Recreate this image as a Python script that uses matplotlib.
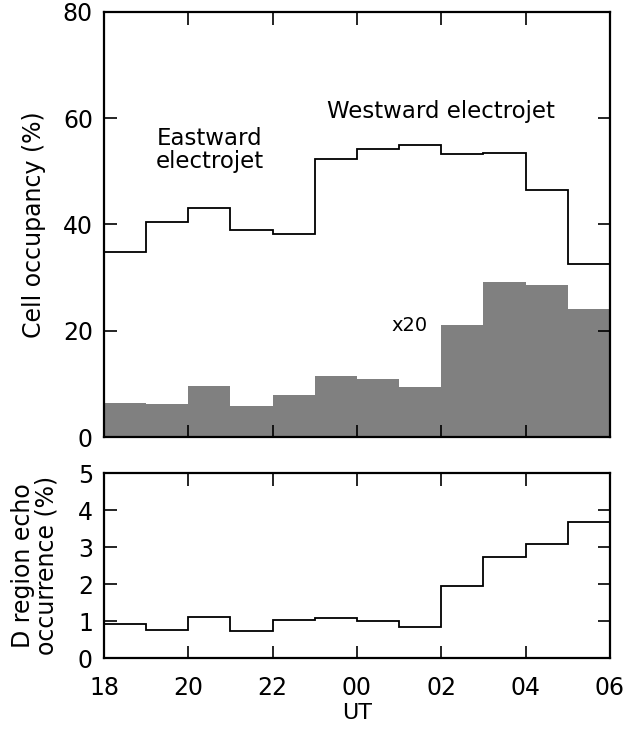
import numpy as np
import matplotlib.pyplot as plt

# hourly bins, 18 UT to 06 UT (hours past 18 run on to 30)
hour_edges = list(range(18, 31))
tick_hours = [18, 20, 22, 24, 26, 28, 30]
tick_labels = ["18", "20", "22", "00", "02", "04", "06"]

cell_occupancy = [34.9, 40.5, 43.1, 39.0, 38.2, 52.4, 54.2, 54.9, 53.2, 53.5, 46.5, 32.6]
eastward_x20 = [6.5, 6.3, 9.6, 5.8, 7.9, 11.5, 10.9, 9.4, 21.1, 29.1, 28.6, 24.1]
d_region = [0.93, 0.77, 1.11, 0.72, 1.02, 1.09, 0.99, 0.84, 1.96, 2.72, 3.07, 3.68]

plt.rcParams["font.family"] = "DejaVu Sans"

fig = plt.figure(figsize=(6.38, 7.3), dpi=100)
ax1 = fig.add_axes([0.163, 0.401, 0.793, 0.583])
ax2 = fig.add_axes([0.163, 0.0986, 0.793, 0.2534])

edges = np.array(hour_edges)

ax1.bar(edges[:-1], eastward_x20, width=1.0, align="edge", color="#808080", linewidth=0)
ax1.stairs(cell_occupancy, edges, color="black", linewidth=1.3)
ax1.set_xlim(18, 30)
ax1.set_ylim(0, 80)
ax1.set_yticks([0, 20, 40, 60, 80])
ax1.set_xticks(tick_hours)
ax1.set_xticklabels([])
ax1.set_ylabel("Cell occupancy (%)", fontsize=17, labelpad=12)

ax1.text(20.51, 54, "Eastward\nelectrojet", ha="center", va="center", fontsize=16.5,
         linespacing=1.05)
ax1.text(25.98, 61.3, "Westward electrojet", ha="center", va="center", fontsize=16.5)
ax1.text(25.25, 21.1, "x20", ha="center", va="center", fontsize=14)

ax2.stairs(d_region, edges, color="black", linewidth=1.3)
ax2.set_xlim(18, 30)
ax2.set_ylim(0, 5)
ax2.set_yticks([0, 1, 2, 3, 4, 5])
ax2.set_xticks(tick_hours)
ax2.set_xticklabels(tick_labels)
ax2.set_xlabel("UT", fontsize=16, labelpad=2)
ax2.set_ylabel("D region echo\noccurrence (%)", fontsize=17, labelpad=14, linespacing=0.95)

for ax in (ax1, ax2):
    ax.tick_params(direction="in", length=9, width=1.2, labelsize=17,
                   top=True, right=True)
    ax.tick_params(axis="y", pad=8)
    ax.tick_params(axis="x", pad=13)
    for s in ax.spines.values():
        s.set_linewidth(1.6)

fig.savefig("out.png", dpi=100)
